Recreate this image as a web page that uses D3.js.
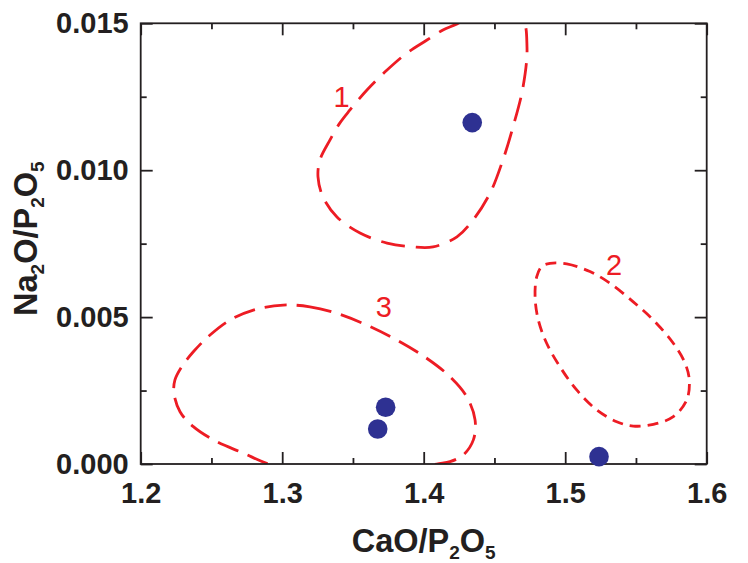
<!DOCTYPE html>
<html><head><meta charset="utf-8">
<script src="https://cdn.jsdelivr.net/npm/d3@7"></script>
<style>body{margin:0;background:#fff}</style>
</head><body>
<svg id="chart" width="748" height="563"></svg>
<script>
// ---- data ----
const xTicks = [1.2, 1.3, 1.4, 1.5, 1.6];
const xMinor = [1.25, 1.35, 1.45, 1.55];
const yTicks = [0, 0.005, 0.010, 0.015];
const yMinor = [0.0025, 0.0075, 0.0125];

const sampleCaO = [1.4343, 1.3731, 1.3675, 1.5239];
const sampleNa  = [0.01162, 0.00193, 0.00119, 0.00025];

// Field 1 outline (CaO/P2O5, Na2O/P2O5)
const field1X = [1.4363,1.4539,1.4695,1.4730,1.4702,1.4631,1.4560,1.4469,1.4348,1.4235,1.4066,1.3924,1.3741,1.3550,1.3387,1.3288,1.3253,1.3267,1.3338,1.3408,1.3479,1.3599,1.3741,1.3882,1.4023,1.4136,1.4235];
const field1Y = [0.01532,0.01545,0.01518,0.01419,0.01283,0.01147,0.01035,0.00922,0.00830,0.00773,0.00739,0.00739,0.00752,0.00786,0.00841,0.00909,0.00977,0.01035,0.01103,0.01161,0.01205,0.01273,0.01341,0.01399,0.01443,0.01477,0.01498];

// Field 2 outline
const field2X = [1.4893,1.5011,1.5175,1.5317,1.5481,1.5623,1.5764,1.5847,1.5877,1.5859,1.5764,1.5623,1.5481,1.5364,1.5223,1.5081,1.4963,1.4869,1.4810,1.4787,1.4799,1.4834];
const field2Y = [0.00683,0.00681,0.00655,0.00615,0.00552,0.00490,0.00411,0.00343,0.00286,0.00218,0.00161,0.00135,0.00129,0.00144,0.00184,0.00252,0.00331,0.00411,0.00490,0.00569,0.00638,0.00672];

// Field 3 outline
const field3X = [1.3008,1.3196,1.3385,1.3597,1.3809,1.4021,1.4186,1.4304,1.4363,1.4351,1.4280,1.4186,1.4092,1.3903,1.3621,1.3126,1.2890,1.2725,1.2537,1.2372,1.2278,1.2235,1.2242,1.2290,1.2372,1.2490,1.2631,1.2796];
const field3Y = [0.00541,0.00535,0.00513,0.00473,0.00422,0.00360,0.00297,0.00229,0.00150,0.00082,0.00031,0.00008,0.00000,-0.00020,-0.00041,-0.00034,0.00002,0.00037,0.00076,0.00127,0.00178,0.00241,0.00286,0.00331,0.00382,0.00439,0.00490,0.00524];

const fieldLabels = ["1", "2", "3"];
const fieldLabelX = [1.3420, 1.5345, 1.3719];
const fieldLabelY = [0.01215, 0.00643, 0.00500];

// ---- layout ----
const L = 140.7, R = 706.7, T = 23.3, B = 464;
const svg = d3.select("#chart");
const x = d3.scaleLinear().domain([1.2, 1.6]).range([L, R]);
const y = d3.scaleLinear().domain([0, 0.015]).range([B, T]);
const axisColor = "#231f20";
const red = "#ed1c24";
const font = "'Liberation Sans', Arial, Helvetica, sans-serif";

svg.append("defs").append("clipPath").attr("id", "plotclip")
  .append("rect").attr("x", L).attr("y", T).attr("width", R - L).attr("height", B - T);

// fields
const fields = [
  {xs: field1X, ys: field1Y, dash: "24,11"},
  {xs: field2X, ys: field2Y, dash: "11,7"},
  {xs: field3X, ys: field3Y, dash: "22,10"}
];
const line = d3.line().x(d => x(d[0])).y(d => y(d[1])).curve(d3.curveCatmullRomClosed.alpha(0.5));
const gF = svg.append("g").attr("clip-path", "url(#plotclip)");
fields.forEach(f => {
  gF.append("path")
    .attr("d", line(f.xs.map((v, i) => [v, f.ys[i]])))
    .attr("fill", "none").attr("stroke", red).attr("stroke-width", 2.8)
    .attr("stroke-dasharray", f.dash);
});

// field labels
fieldLabels.forEach((t, i) => {
  svg.append("text").attr("x", x(fieldLabelX[i])).attr("y", y(fieldLabelY[i]))
    .attr("text-anchor", "middle").attr("font-family", font).attr("font-size", 29)
    .attr("fill", red).text(t);
});

// axes
function styleAxis(g) {
  g.select(".domain").remove();
  g.selectAll(".tick line").attr("stroke", axisColor).attr("stroke-width", 1.8);
  g.selectAll("text").attr("font-family", font).attr("font-weight", "bold")
    .attr("font-size", 29).attr("fill", "#231f20");
}
// bottom
svg.append("g").attr("transform", `translate(0,${B})`)
  .call(d3.axisBottom(x).tickValues(xTicks).tickSize(-12).tickPadding(18).tickFormat(d3.format(".1f")))
  .call(styleAxis);
svg.append("g").attr("transform", `translate(0,${B})`)
  .call(d3.axisBottom(x).tickValues(xMinor).tickSize(-6).tickFormat(""))
  .call(styleAxis);
// top
svg.append("g").attr("transform", `translate(0,${T})`)
  .call(d3.axisTop(x).tickValues(xTicks).tickSize(-12).tickFormat(""))
  .call(styleAxis);
svg.append("g").attr("transform", `translate(0,${T})`)
  .call(d3.axisTop(x).tickValues(xMinor).tickSize(-6).tickFormat(""))
  .call(styleAxis);
// left
svg.append("g").attr("transform", `translate(${L},0)`)
  .call(d3.axisLeft(y).tickValues(yTicks).tickSize(-12).tickPadding(12).tickFormat(d3.format(".3f")))
  .call(styleAxis);
svg.append("g").attr("transform", `translate(${L},0)`)
  .call(d3.axisLeft(y).tickValues(yMinor).tickSize(-6).tickFormat(""))
  .call(styleAxis);
// right
svg.append("g").attr("transform", `translate(${R},0)`)
  .call(d3.axisRight(y).tickValues(yTicks).tickSize(-12).tickFormat(""))
  .call(styleAxis);
svg.append("g").attr("transform", `translate(${R},0)`)
  .call(d3.axisRight(y).tickValues(yMinor).tickSize(-6).tickFormat(""))
  .call(styleAxis);

// frame
svg.append("rect").attr("x", L).attr("y", T).attr("width", R - L).attr("height", B - T)
  .attr("fill", "none").attr("stroke", axisColor).attr("stroke-width", 1.8);

// points
svg.append("g").selectAll("circle").data(sampleCaO.map((v, i) => [v, sampleNa[i]]))
  .join("circle").attr("cx", d => x(d[0])).attr("cy", d => y(d[1])).attr("r", 9.8)
  .attr("fill", "#2e3192");

// axis titles
const xt = svg.append("text").attr("x", (L + R) / 2).attr("y", 552)
  .attr("text-anchor", "middle").attr("font-family", font).attr("font-weight", "bold")
  .attr("font-size", 32.5).attr("fill", "#231f20");
xt.append("tspan").text("CaO/P");
xt.append("tspan").attr("font-size", 19).attr("dy", 7).text("2");
xt.append("tspan").attr("dy", -7).text("O");
xt.append("tspan").attr("font-size", 19).attr("dy", 7).text("5");

const yt = svg.append("text").attr("transform", `translate(37,${(T + B) / 2 - 5}) rotate(-90)`)
  .attr("text-anchor", "middle").attr("font-family", font).attr("font-weight", "bold")
  .attr("font-size", 32.5).attr("fill", "#231f20");
yt.append("tspan").text("Na");
yt.append("tspan").attr("font-size", 19).attr("dy", 7).text("2");
yt.append("tspan").attr("dy", -7).text("O/P");
yt.append("tspan").attr("font-size", 19).attr("dy", 7).text("2");
yt.append("tspan").attr("dy", -7).text("O");
yt.append("tspan").attr("font-size", 19).attr("dy", 7).text("5");
</script>
</body></html>
